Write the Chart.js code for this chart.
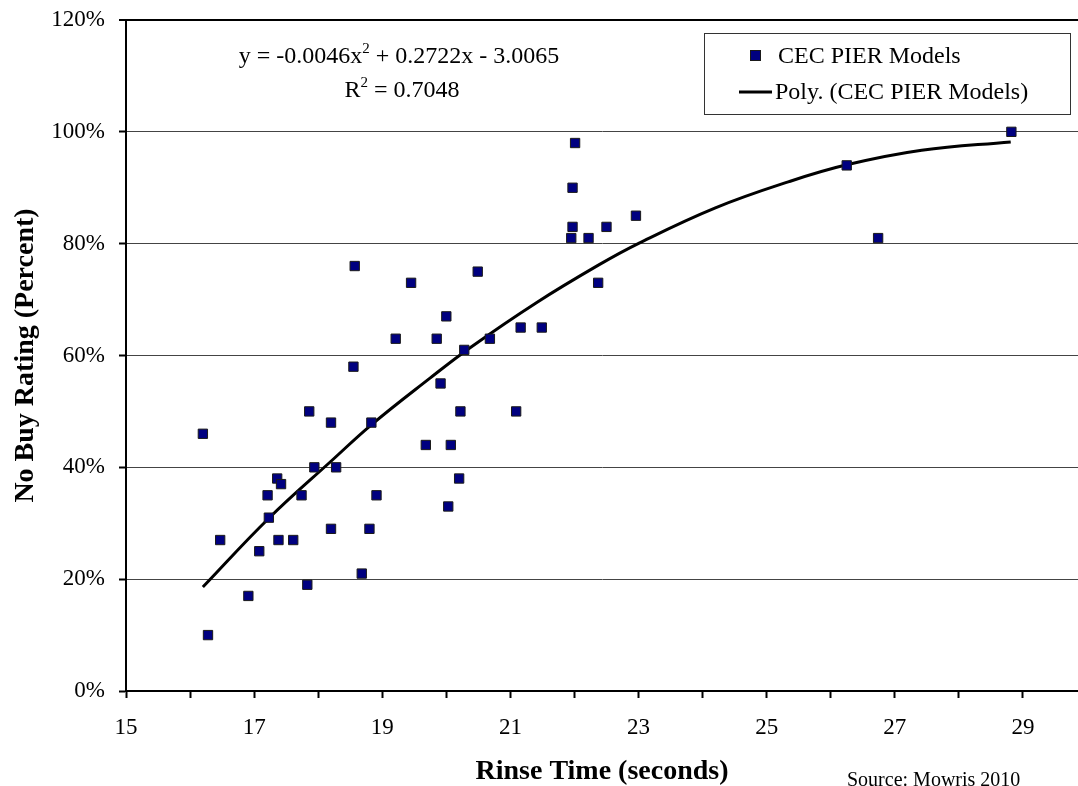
<!DOCTYPE html>
<html><head><meta charset="utf-8">
<script src="https://cdn.jsdelivr.net/npm/chart.js@4"></script>
<style>
html,body{margin:0;padding:0;overflow:hidden;background:#fff;}
#wrap{position:absolute;left:0;top:0;width:1078px;height:786px;}
canvas{display:block;}
</style>
</head><body>
<div id="wrap"><canvas id="c" width="1078" height="786"></canvas></div>
<script>
// Scatter data: rinse time (seconds) vs no-buy rating (percent)
const rinseTime = [16.20,16.28,16.47,16.91,17.08,17.21,17.23,17.36,17.42,17.38,17.61,17.74,17.83,17.86,17.94,18.20,18.20,18.28,18.55,18.57,18.68,18.80,18.83,18.91,19.21,19.45,19.68,19.85,19.91,20.00,20.03,20.07,20.20,20.22,20.28,20.49,20.68,21.09,21.16,21.49,21.95,21.97,21.97,22.01,22.22,22.37,22.50,22.96,26.25,26.74,28.82];
const noBuyRating = [46,10,27,17,25,35,31,38,37,27,27,35,19,50,40,48,29,40,58,76,21,29,48,35,63,73,44,63,55,67,33,44,38,50,61,75,63,50,65,65,81,83,90,98,81,73,83,85,94,81,100];
// Polynomial trendline
const trendX = [16.20,17.23,18.23,18.83,19.74,20.36,21.40,22.38,23.01,24.20,25.35,26.25,27.42,28.81];
const trendY = [18.6,30.9,41.4,47.6,55.9,61.3,69.4,76.2,80.1,86.4,91.1,94.1,96.7,98.2];
const xTickLabels = ['15','17','19','21','23','25','27','29'];
const yTickLabels = ['0%','20%','40%','60%','80%','100%','120%'];
const seriesName = 'CEC PIER Models';
const trendName = 'Poly. (CEC PIER Models)';
const equationText = ['y = -0.0046x', '2', ' + 0.2722x - 3.0065'];
const r2Text = ['R', '2', ' = 0.7048'];
const sourceText = 'Source: Mowris 2010';

const FONT = "'Liberation Serif','Times New Roman',Times,serif";
const navy = '#000080';

const scatterPts = rinseTime.map((x, i) => ({x: x, y: noBuyRating[i]}));
const trendPts = trendX.map((x, i) => ({x: x, y: trendY[i]}));

function drawSup(ctx, parts, cx, baseline, size, supSize, supRise) {
  ctx.font = size + 'px ' + FONT;
  const w0 = ctx.measureText(parts[0]).width;
  const w2 = ctx.measureText(parts[2]).width;
  ctx.font = supSize + 'px ' + FONT;
  const w1 = ctx.measureText(parts[1]).width;
  const total = w0 + w1 + w2;
  let x = cx - total / 2;
  ctx.textAlign = 'left';
  ctx.textBaseline = 'alphabetic';
  ctx.fillStyle = '#000';
  ctx.font = size + 'px ' + FONT;
  ctx.fillText(parts[0], x, baseline);
  x += w0;
  ctx.font = supSize + 'px ' + FONT;
  ctx.fillText(parts[1], x, baseline - supRise);
  x += w1;
  ctx.font = size + 'px ' + FONT;
  ctx.fillText(parts[2], x, baseline);
}

const overlay = {
  id: 'overlay',
  afterDraw(chart) {
    const ctx = chart.ctx;
    ctx.save();
    drawSup(ctx, equationText, 399, 63, 24, 15, 10);
    drawSup(ctx, r2Text, 402, 97, 24, 15, 10);
    ctx.fillStyle = '#fff';
    ctx.fillRect(704, 33, 367, 82);
    ctx.strokeStyle = '#333';
    ctx.lineWidth = 1;
    ctx.strokeRect(704.5, 33.5, 366, 81);
    ctx.fillStyle = navy;
    ctx.fillRect(751, 51, 9, 9);
    ctx.strokeStyle = '#1a1a1a';
    ctx.strokeRect(750.5, 50.5, 10, 10);
    ctx.fillStyle = '#000';
    ctx.font = '24px ' + FONT;
    ctx.textAlign = 'left';
    ctx.textBaseline = 'alphabetic';
    ctx.fillText(seriesName, 778, 63);
    ctx.strokeStyle = '#000';
    ctx.lineWidth = 3;
    ctx.beginPath();
    ctx.moveTo(739, 92);
    ctx.lineTo(772, 92);
    ctx.stroke();
    ctx.fillText(trendName, 775, 99);
    ctx.font = '20px ' + FONT;
    ctx.fillText(sourceText, 847, 786);
    ctx.restore();
  }
};

new Chart(document.getElementById('c'), {
  type: 'scatter',
  data: {
    datasets: [
      {
        label: seriesName,
        data: scatterPts,
        pointStyle: 'rect',
        pointRadius: 6.6,
        backgroundColor: navy,
        borderColor: '#1a1a1a',
        borderWidth: 1,
        order: 0
      },
      {
        label: trendName,
        data: trendPts,
        showLine: true,
        borderColor: '#000',
        borderWidth: 3,
        pointRadius: 0,
        tension: 0.4,
        fill: false,
        order: 1
      }
    ]
  },
  options: {
    responsive: false,
    animation: false,
    devicePixelRatio: 1,
    layout: { autoPadding: false, padding: { left: 0, right: 0, top: 20, bottom: 0 } },
    plugins: { legend: { display: false }, tooltip: { enabled: false } },
    scales: {
      x: {
        type: 'linear',
        min: 15, max: 29.86,
        afterFit(s) { s.height = 95; s.paddingLeft = 0; s.paddingRight = 0; },
        ticks: {
          stepSize: 1,
          includeBounds: false,
          autoSkip: false,
          maxRotation: 0,
          padding: 16,
          color: '#000',
          font: { family: FONT, size: 23 },
          callback: (v) => xTickLabels.includes(String(v)) ? String(v) : ''
        },
        grid: {
          drawOnChartArea: false, drawTicks: true, tickLength: 7, tickWidth: 2,
          tickColor: (c) => (c.tick && Number.isInteger(c.tick.value)) ? '#000' : 'rgba(0,0,0,0)'
        },
        border: { display: true, color: '#000', width: 2 },
        title: {
          display: true, text: 'Rinse Time (seconds)', color: '#000',
          font: { family: FONT, size: 28, weight: 'bold', lineHeight: 1 },
          padding: 0
        }
      },
      y: {
        type: 'linear',
        min: 0, max: 120,
        afterFit(s) { s.width = 126; s.paddingTop = 0; s.paddingBottom = 0; },
        ticks: {
          stepSize: 20,
          padding: 14,
          color: '#000',
          font: { family: FONT, size: 23 },
          callback: (v) => yTickLabels[Math.round(v / 20)]
        },
        grid: {
          drawTicks: true, tickLength: 7, tickColor: '#000', tickWidth: 2,
          color: (c) => (c.tick && c.tick.value === 120) ? '#000' : '#444',
          lineWidth: (c) => (c.tick && c.tick.value === 120) ? 2 : 1
        },
        border: { display: true, color: '#000', width: 2 },
        title: {
          display: true, text: 'No Buy Rating (Percent)', color: '#000',
          font: { family: FONT, size: 28, weight: 'bold', lineHeight: 1 },
          padding: { top: 12, bottom: 0 }
        }
      }
    }
  },
  plugins: [overlay]
});
</script>
</body></html>
